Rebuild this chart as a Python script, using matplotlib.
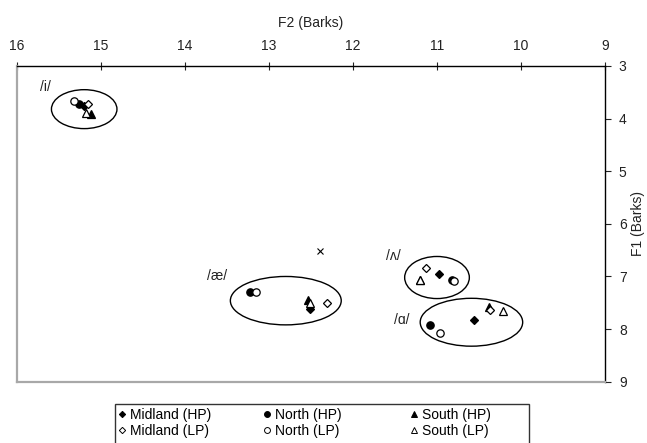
import matplotlib
matplotlib.use('Agg')
import matplotlib.pyplot as plt
from matplotlib.patches import Ellipse, Rectangle
from matplotlib.lines import Line2D

plt.rcParams['font.family'] = ['Liberation Sans', 'DejaVu Sans']

# F2 / F1 (Barks) per vowel
vowels = ['/i/', '/æ/', '/ʌ/', '/ɑ/']
midland_hp_f2 = [15.20, 12.51, 10.98, 10.56]
midland_hp_f1 = [3.76, 7.62, 6.95, 7.82]
north_hp_f2 = [15.26, 13.23, 10.82, 11.08]
north_hp_f1 = [3.72, 7.29, 7.06, 7.92]
south_hp_f2 = [15.12, 12.54, 11.20, 10.38]
south_hp_f1 = [3.92, 7.45, 7.07, 7.58]
midland_lp_f2 = [15.15, 12.31, 11.13, 10.37]
midland_lp_f1 = [3.73, 7.51, 6.83, 7.63]
north_lp_f2 = [15.32, 13.15, 10.80, 10.96]
north_lp_f1 = [3.66, 7.30, 7.09, 8.08]
south_lp_f2 = [15.18, 12.51, 11.20, 10.22]
south_lp_f1 = [3.89, 7.51, 7.07, 7.66]

# lone x marker
cross_f2 = [12.39]
cross_f1 = [6.51]

# ellipses round each vowel: centre F2, centre F1, width, height
ell_f2 = [15.20, 12.80, 11.00, 10.59]
ell_f1 = [3.82, 7.46, 7.02, 7.87]
ell_w = [0.78, 1.32, 0.77, 1.22]
ell_h = [0.74, 0.92, 0.80, 0.91]

# vowel label positions
lab_f2 = [15.66, 13.62, 11.52, 11.42]
lab_f1 = [3.39, 7.00, 6.61, 7.82]

W, H = 647, 443
fig = plt.figure(figsize=(W/100, H/100), dpi=100)
ax = fig.add_axes([17/W, 1-381.7/H, (605-17)/W, (381.7-66)/H])

for cx, cy, w, h in zip(ell_f2, ell_f1, ell_w, ell_h):
    ax.add_patch(Ellipse((cx, cy), w, h, fill=False, edgecolor='k', linewidth=1.0))

for x, y, t in zip(lab_f2, lab_f1, vowels):
    ax.text(x, y, t, fontsize=10, ha='center', va='center', color='#222222')

ax.plot(cross_f2, cross_f1, 'x', color='k', markersize=5, markeredgewidth=0.8)

series = [
    (midland_hp_f2, midland_hp_f1, 'D', 'k', 4.0, 'Midland (HP)'),
    (north_hp_f2, north_hp_f1, 'o', 'k', 5.3, 'North (HP)'),
    (south_hp_f2, south_hp_f1, '^', 'k', 5.5, 'South (HP)'),
    (midland_lp_f2, midland_lp_f1, 'D', 'w', 4.0, 'Midland (LP)'),
    (north_lp_f2, north_lp_f1, 'o', 'w', 5.3, 'North (LP)'),
    (south_lp_f2, south_lp_f1, '^', 'w', 5.5, 'South (LP)'),
]
handles = {}
for xs, ys, m, fc, ms, lab in series:
    ax.plot(xs, ys, m, markerfacecolor=fc, markeredgecolor='k', markersize=ms,
            markeredgewidth=0.9, linestyle='none')
    handles[lab] = Line2D([], [], marker=m, markerfacecolor=fc, markeredgecolor='k',
                          markersize=ms * 0.8, markeredgewidth=0.7, linestyle='none')

ax.set_xlim(16, 9)
ax.set_ylim(9, 3)
ax.set_xticks(range(9, 17))
ax.set_yticks(range(3, 10))

ax.xaxis.set_ticks_position('top')
ax.xaxis.set_label_position('top')
ax.yaxis.set_ticks_position('right')
ax.yaxis.set_label_position('right')
ax.tick_params(axis='x', direction='inout', length=6, width=0.8, pad=6, labelsize=10, colors='#222222')
ax.tick_params(axis='y', direction='out', length=4, width=0.8, pad=6, labelsize=10, colors='#222222')
ax.set_xlabel('F2 (Barks)', fontsize=10, labelpad=9, color='#222222')
ax.set_ylabel('F1 (Barks)', fontsize=10, labelpad=3, color='#222222')

ax.spines['top'].set_color('k')
ax.spines['right'].set_color('k')
ax.spines['top'].set_linewidth(1.0)
ax.spines['right'].set_linewidth(1.0)
ax.spines['left'].set_color('#a8a8a8')
ax.spines['bottom'].set_color('#a8a8a8')
ax.spines['left'].set_linewidth(1.6)
ax.spines['bottom'].set_linewidth(1.6)

# legend: three equal columns inside one box (box runs off the bottom edge)
fig.add_artist(Rectangle((115/W, -10/H), (529-115)/W, (H+10-404)/H, transform=fig.transFigure,
                         fill=False, edgecolor='#333333', linewidth=1.0))
columns = [('Midland (HP)', 'Midland (LP)', 122), ('North (HP)', 'North (LP)', 267),
           ('South (HP)', 'South (LP)', 414)]
hl = 0.6
for hp, lp, mx in columns:
    x0 = mx - hl * 10 * 100 / 72 / 2
    fig.legend([handles[hp], handles[lp]], [hp, lp], loc='upper left',
               bbox_to_anchor=(x0/W, 1-408/H), frameon=False, fontsize=10,
               handlelength=hl, handletextpad=0.3, labelspacing=0.12,
               borderpad=0, borderaxespad=0)

fig.savefig('out.png', dpi=100)
